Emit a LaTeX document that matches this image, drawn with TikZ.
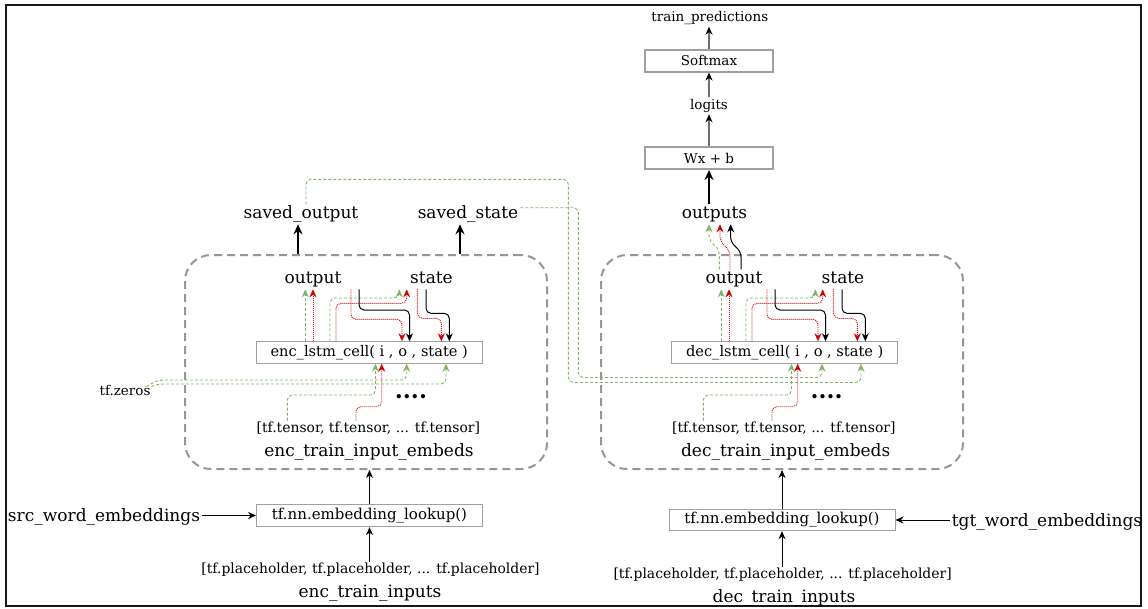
\documentclass[tikz,border=0pt]{standalone}
\usepackage{fontspec}
\setmainfont{DejaVu Serif}
\usetikzlibrary{arrows.meta}
\definecolor{gline}{RGB}{130,179,102}
\definecolor{rline}{RGB}{210,0,0}
\definecolor{cgray}{RGB}{150,150,150}
\definecolor{bgray}{RGB}{160,160,160}
\definecolor{agray}{RGB}{110,110,110}
\newcommand\bigfnt{\fontsize{17}{19}\selectfont}
\newcommand\smfnt{\fontsize{13.5}{16}\selectfont}
\newcommand\listfnt{\fontsize{13.9}{16}\selectfont}
\newcommand\cellfnt{\fontsize{14.6}{17}\selectfont}
\newcommand\lookfnt{\fontsize{15}{17}\selectfont}
\tikzset{
  big/.style={font=\bigfnt, inner sep=0pt, outer sep=2pt, text height=12pt, text depth=4pt, anchor=base},
  sm/.style={font=\smfnt, inner sep=0pt, outer sep=2pt, text height=10pt, text depth=3pt, anchor=base},
  lst/.style={sm, font=\listfnt},
  cellbox/.style={draw=bgray, line width=0.9pt, minimum width=226pt, minimum height=21.5pt, inner sep=0pt, font=\cellfnt},
  lookbox/.style={cellbox, font=\lookfnt},
  topbox/.style={draw=bgray, line width=2pt, minimum width=128pt, minimum height=20pt, inner sep=0pt, font=\smfnt},
  cont/.style={draw=cgray, line width=2pt, dash pattern=on 8pt off 5pt, rounded corners=26pt, minimum width=362pt, minimum height=214pt, inner sep=0pt},
  tipS/.style={-{Stealth[length=8pt,width=7pt]}},
  garr/.style={draw=gline, line width=0.9pt, dash pattern=on 3pt off 2pt, tipS, rounded corners=5pt},
  rarr/.style={draw=rline, line width=0.9pt, dash pattern=on 1pt off 1pt, tipS, rounded corners=5pt},
  barr/.style={draw=black, line width=1pt, tipS, rounded corners=5pt},
  thickarr/.style={draw=black, line width=2.5pt, -{Stealth[length=10pt,width=9pt]}},
  grayarr/.style={draw=agray, line width=1.5pt, -{Stealth[length=8pt,width=7pt,color=black]}},
  plainarr/.style={draw=black, line width=1pt, tipS},
  dotsty/.style={font=\fontsize{23}{25}\selectfont\bfseries, inner sep=0pt, anchor=base}
}
\newcommand\lstmroutes[4]{%
  \draw[garr] (#1.north -| 305.3,0) -- (#2.south -| 305.3,0);
  \draw[rarr] (#1.north -| 313,0) -- (#2.south -| 313,0);
  \draw[garr] (#1.north -| 330,0) |- (399.3,298) -- (#3.south -| 399.3,0);
  \draw[rarr] (#1.north -| 336,0) |- (406.7,303.3) -- (#3.south -| 406.7,0);
  \draw[rarr] (#2.south -| 351,0) |- (402,319.3) -- (#1.north -| 402,0);
  \draw[barr] (#2.south -| 359,0) |- (409.5,310) -- (#1.north -| 409.5,0);
  \draw[rarr] (#3.south -| 417.3,0) |- (441.3,318.3) -- (#1.north -| 441.3,0);
  \draw[barr] (#3.south -| 426,0) |- (449.3,313.3) -- (#1.north -| 449.3,0);
  \draw[garr] (#4.north -| 287.3,0) |- (375.5,395) -- (#1.south -| 375.5,0);
  \draw[rarr] (#4.north -| 356,0) |- (381.7,406.7) -- (#1.south -| 381.7,0);
}
\begin{document}
\begin{tikzpicture}[x=1pt, y=-1pt]
\useasboundingbox (0,0) rectangle (1148,608);
\fill[white] (0,0) rectangle (1148,608);
\draw[line width=2.3pt, black!90] (6,5) rectangle (1141,606);

% containers
\node[cont] (encC) at (366,362) {};
\node[cont] (decC) at (782,362) {};

% encoder labels
\node[big] (svo) at (301,218.3) {saved\_output};
\node[big] (svs) at (468,218.3) {saved\_state};
\node[big] (outE) at (313,283.3) {output};
\node[big] (stE) at (431.5,283.3) {state};
\node[cellbox] (cellE) at (369.2,352.5) {enc\_lstm\_cell( i , o , state )};
\node[dotsty] (dotsE) at (411,398) {....};
\node[lst] (tensE) at (368.3,432.7) {[tf.tensor, tf.tensor, ... tf.tensor]};
\node[big] (embE) at (369,456.7) {enc\_train\_input\_embeds};
\node[lookbox, minimum height=22.5pt] (lookE) at (369.5,515.5) {tf.nn.embedding\_lookup()};
\node[big] (srcW) at (104,521) {src\_word\_embeddings};
\node[lst] (phE) at (370.5,573.5) {[tf.placeholder, tf.placeholder, ... tf.placeholder]};
\node[big] (etin) at (370,597) {enc\_train\_inputs};
\node[sm] (tfz) at (125,395) {tf.zeros};

% decoder labels
\node[big] (outs) at (714.5,218.3) {outputs};
\node[big] (outD) at (734,283.3) {output};
\node[big] (stD) at (843,283.3) {state};
\node[cellbox] (cellD) at (784.7,352.5) {dec\_lstm\_cell( i , o , state )};
\node[dotsty] (dotsD) at (826.7,398) {....};
\node[lst] (tensD) at (783.8,432.7) {[tf.tensor, tf.tensor, ... tf.tensor]};
\node[big] (embD) at (785.7,456.7) {dec\_train\_input\_embeds};
\node[lookbox] (lookD) at (782,520) {tf.nn.embedding\_lookup()};
\node[big] (tgtW) at (1047,526) {tgt\_word\_embeddings};
\node[lst] (phD) at (782.6,578.5) {[tf.placeholder, tf.placeholder, ... tf.placeholder]};
\node[big] (dtin) at (784,602) {dec\_train\_inputs};

% top
\node[topbox, minimum height=22pt] (wxb) at (709,158) {Wx + b};
\node[sm] (logits) at (709,109.3) {logits};
\node[topbox, minimum height=22pt] (smax) at (709,60.5) {Softmax};
\node[sm] (tp) at (709.8,21.7) {train\_predictions};

% top arrows
\draw[thickarr] (outs.north -| wxb.south) -- (wxb.south);
\draw[grayarr] (wxb.north) -- (logits.south -| wxb.north);
\draw[grayarr] (logits.north -| smax.south) -- (smax.south);
\draw[grayarr] (smax.north) -- (tp.south -| smax.north);

% saved arrows
\draw[thickarr] (encC.north -| 298,0) -- (svo.south -| 298,0);
\draw[thickarr] (encC.north -| 460,0) -- (svs.south -| 460,0);

% cell routes
\lstmroutes{cellE}{outE}{stE}{tensE}
\begin{scope}[xshift=416pt]
\lstmroutes{cellD}{outD}{stD}{tensD}
\end{scope}

% tf.zeros
\draw[garr] ([xshift=-6pt,yshift=5pt]tfz.east) -- (158,380) -- (406.7,380) -- (cellE.south -| 406.7,0);
\draw[garr] ([xshift=-1pt,yshift=5pt]tfz.east) -- (158,384) -- (446,384) -- (cellE.south -| 446,0);

% saved -> decoder
\draw[garr] (svo.north -| 306,0) |- (568.3,179.3) |- (861,382.5) -- (cellD.south -| 861,0);
\draw[garr] (svs.east |- 0,207.7) -| (578.3,377.5) -- (822,377.5) -- (cellD.south -| 822,0);

% decoder output -> outputs
\draw[garr] (outD.north -| 719.3,0) -- (719.3,250) -- (709,240) -- (outs.south -| 709,0);
\draw[rarr] (outD.north -| 730,0) -- (730,251) -- (720,241) -- (outs.south -| 720,0);
\draw[barr] (outD.north -| 741,0) -- (741,252) -- (730.7,242) -- (outs.south -| 730.7,0);

% embeddings
\draw[plainarr] (lookE.north) -- (lookE.north |- encC.south);
\draw[plainarr] (phE.north -| lookE.south) -- (lookE.south);
\draw[plainarr] (srcW.east |- lookE.west) -- (lookE.west);
\draw[plainarr] (lookD.north) -- (lookD.north |- decC.south);
\draw[plainarr] (phD.north -| lookD.south) -- (lookD.south);
\draw[plainarr] (tgtW.west |- lookD.east) -- (lookD.east);
\end{tikzpicture}
\end{document}
